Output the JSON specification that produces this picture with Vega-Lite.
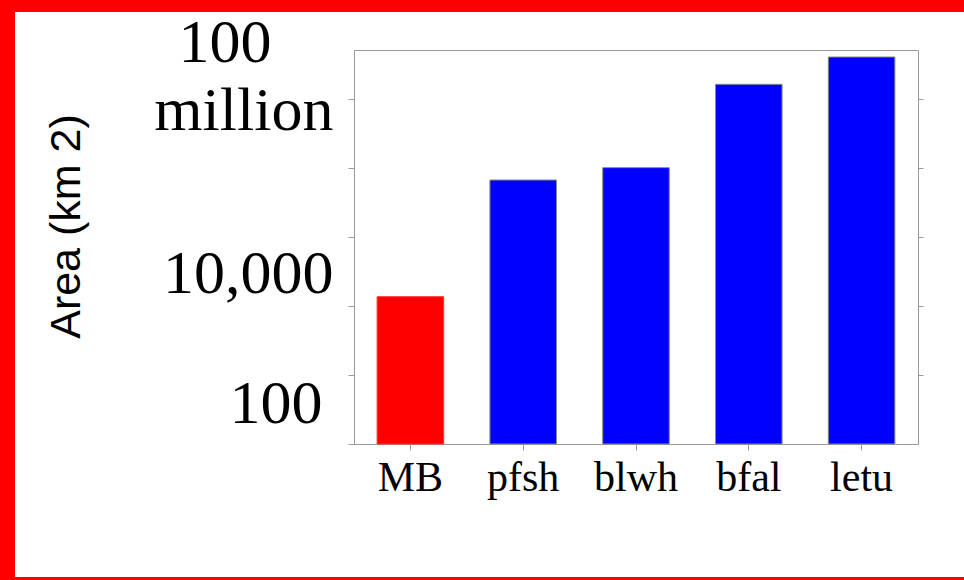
{
  "$schema": "https://vega.github.io/schema/vega-lite/v6.json",
  "autosize": {"type": "none"},
  "padding": {"left": 15, "top": 12, "right": 0, "bottom": 3},
  "width": 949,
  "height": 565,
  "background": "#ff0000",
  "view": {"fill": "white", "stroke": null},
  "data": {
    "values": [
      {"name": "MB", "area": 13700},
      {"name": "pfsh", "area": 675000},
      {"name": "blwh", "area": 1020000},
      {"name": "bfal", "area": 16500000},
      {"name": "letu", "area": 41100000}
    ]
  },
  "layer": [
    {
      "mark": {"type": "bar", "strokeWidth": 1},
      "encoding": {
        "x": {
          "field": "name",
          "type": "nominal",
          "sort": null,
          "scale": {"range": [339, 903], "paddingInner": 0.41, "paddingOuter": 0.205},
          "axis": {
            "orient": "bottom",
            "offset": -133,
            "title": null,
            "labelAngle": 0,
            "labelFont": "Liberation Serif",
            "labelFontSize": 42,
            "labelColor": "#000000",
            "labelPadding": 7,
            "tickSize": 6,
            "tickColor": "#999999",
            "domainColor": "#999999"
          }
        },
        "y": {
          "field": "area",
          "type": "quantitative",
          "scale": {"type": "log", "domain": [100, 51900000], "nice": false, "range": [432, 38]},
          "axis": {
            "orient": "left",
            "offset": -339,
            "values": [100, 1000, 10000, 100000, 1000000, 10000000, 22000000],
            "labelExpr": "datum.value == 100 ? '100' : datum.value == 10000 ? '10,000' : datum.value > 15000000 ? ['100\u00a0\u00a0\u00a0\u00a0\u200b', 'million'] : ''",
            "labelFont": "Liberation Serif",
            "labelFontSize": 62,
            "labelColor": "#000000",
            "labelBaseline": "alphabetic",
            "labelAlign": "right",
            "labelLineHeight": 68,
            "labelOffset": {"condition": {"test": "datum.value == 100", "value": -22}, "value": -14},
            "labelPadding": {"condition": {"test": "datum.value == 100", "value": 26}, "value": 15},
            "labelOverlap": false,
            "labelFlush": false,
            "labelBound": false,
            "tickSize": 6,
            "tickColor": {"condition": {"test": "datum.value > 15000000", "value": "transparent"}, "value": "#999999"},
            "domainColor": "#999999",
            "title": "Area (km 2)",
            "titleFont": "Liberation Sans",
            "titleFontSize": 43,
            "titleFontWeight": "normal",
            "titleColor": "#000000",
            "titleAngle": -90,
            "titleBaseline": "alphabetic",
            "titleAlign": "center",
            "titleX": -275,
            "titleY": 214,
            "grid": false
          }
        },
        "y2": {"datum": 100},
        "fill": {"condition": {"test": "datum.name === 'MB'", "value": "#ff0000"}, "value": "#0000ff"},
        "stroke": {"condition": {"test": "datum.name === 'MB'", "value": "#ff3030"}, "value": "#8a8a8a"}
      }
    },
    {
      "mark": {"type": "bar", "opacity": 0},
      "encoding": {
        "x": {
          "field": "name",
          "type": "nominal",
          "sort": null,
          "axis": {"orient": "top", "offset": -38, "title": null, "labels": false, "ticks": false, "domainColor": "#999999"}
        },
        "y": {
          "field": "area",
          "type": "quantitative",
          "axis": {
            "orient": "right",
            "offset": -46,
            "title": null,
            "labels": false,
            "values": [1000, 10000, 100000, 1000000, 10000000],
            "tickSize": 5,
            "tickColor": "#999999",
            "domainColor": "#999999",
            "grid": false
          }
        },
        "y2": {"datum": 100}
      }
    }
  ],
  "resolve": {"axis": {"x": "independent", "y": "independent"}},
  "config": {"axis": {"grid": false, "domainWidth": 1, "tickWidth": 1}}
}
